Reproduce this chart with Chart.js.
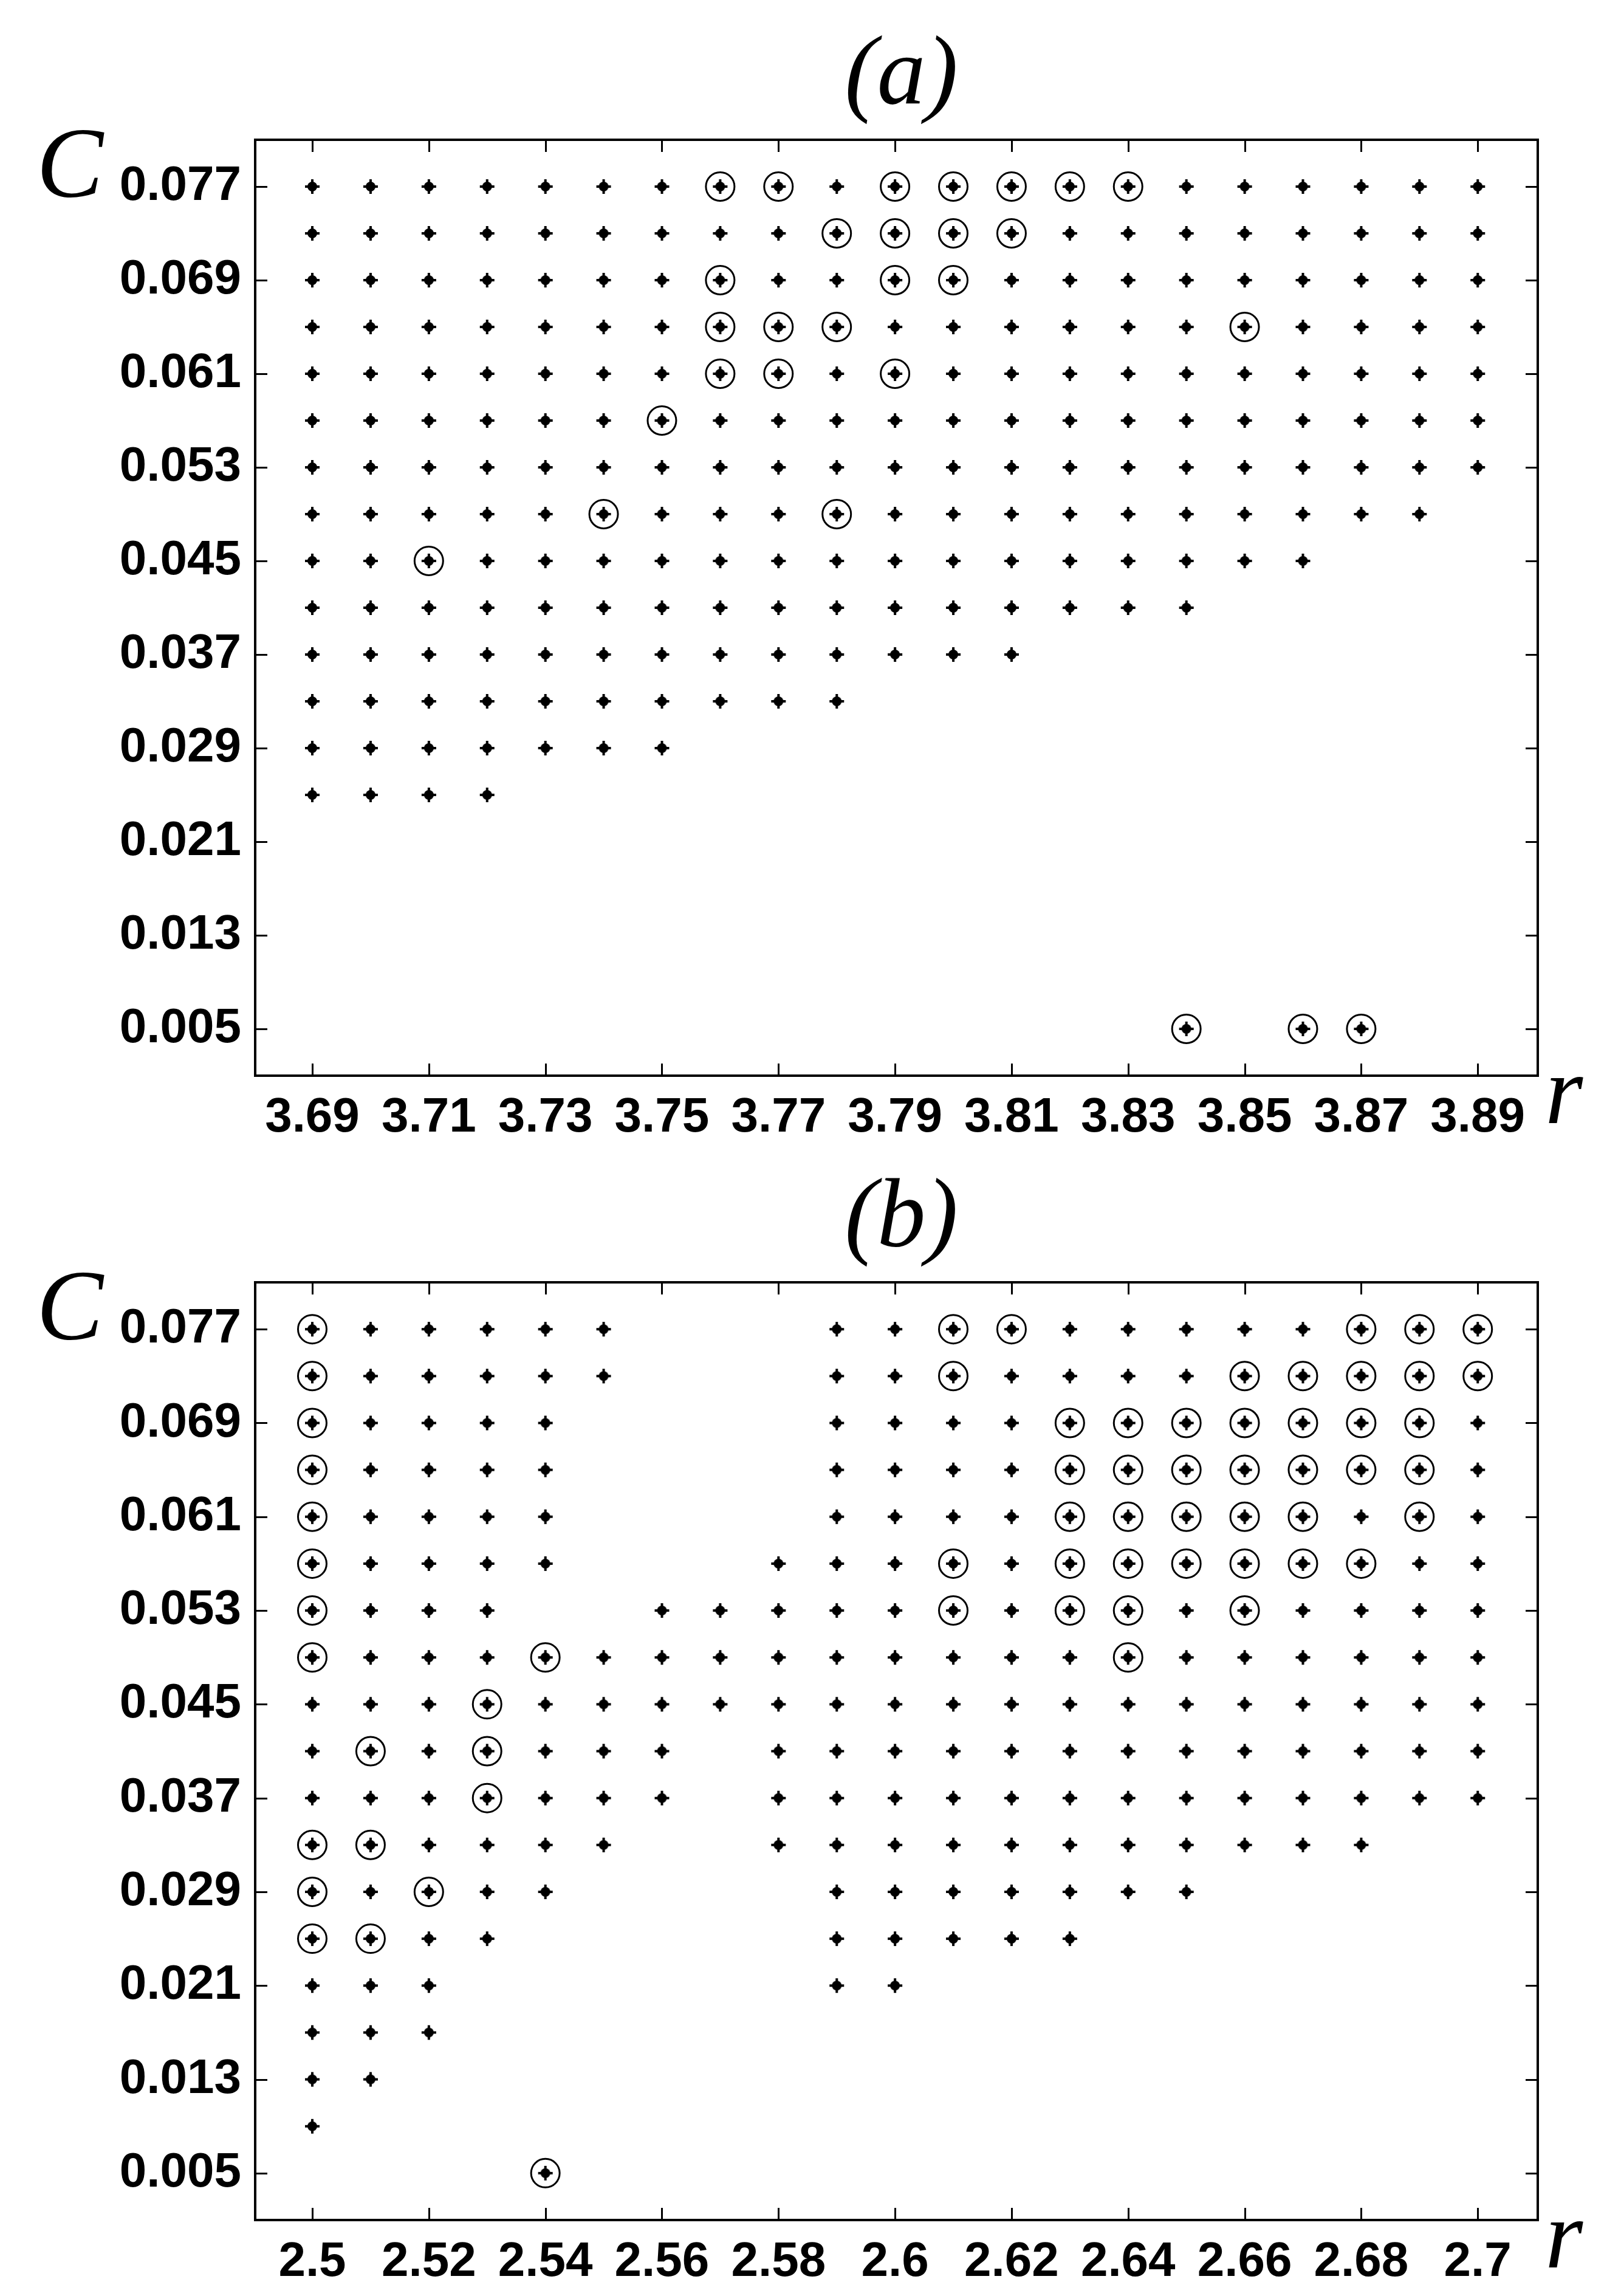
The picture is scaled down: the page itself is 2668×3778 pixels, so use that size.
<!DOCTYPE html>
<html>
<head>
<meta charset="utf-8">
<script src="https://cdn.jsdelivr.net/npm/chart.js@4.4.1/dist/chart.umd.min.js"></script>
<style>
html, body { margin: 0; padding: 0; background: #fff; }
#wrap { position: relative; width: 2668px; height: 3778px; }
.box { position: absolute; left: 0; width: 2668px; }
</style>
</head>
<body>
<div id="wrap">
  <div class="box" style="top:0"><canvas id="chartA" width="2668" height="1880"></canvas></div>
  <div class="box" style="top:1880px"><canvas id="chartB" width="2668" height="1898"></canvas></div>
</div>
<script>
// C levels, top row first
var cLevels = [0.077, 0.073, 0.069, 0.065, 0.061, 0.057, 0.053, 0.049, 0.045, 0.041,
               0.037, 0.033, 0.029, 0.025, 0.021, 0.017, 0.013, 0.009, 0.005]
var cTicks = [0.005, 0.013, 0.021, 0.029, 0.037, 0.045, 0.053, 0.061, 0.069, 0.077]
var cTickLabels = ['0.005', '0.013', '0.021', '0.029', '0.037', '0.045', '0.053', '0.061', '0.069', '0.077']

// panel (a)
var rA = [3.69, 3.70, 3.71, 3.72, 3.73, 3.74, 3.75, 3.76, 3.77, 3.78, 3.79,
          3.80, 3.81, 3.82, 3.83, 3.84, 3.85, 3.86, 3.87, 3.88, 3.89]
var rTicksA = [3.69, 3.71, 3.73, 3.75, 3.77, 3.79, 3.81, 3.83, 3.85, 3.87, 3.89]
var rTickLabelsA = ['3.69', '3.71', '3.73', '3.75', '3.77', '3.79', '3.81', '3.83', '3.85', '3.87', '3.89']
// one string per C level: '+' point, 'o' circled point, '.' nothing
var gridA = [
  '+++++++oo+ooooo++++++',
  '+++++++++oooo++++++++',
  '+++++++o++oo+++++++++',
  '+++++++ooo++++++o++++',
  '+++++++oo+o++++++++++',
  '++++++o++++++++++++++',
  '+++++++++++++++++++++',
  '+++++o+++o++++++++++.',
  '++o+++++++++++++++...',
  '++++++++++++++++.....',
  '+++++++++++++........',
  '++++++++++...........',
  '+++++++..............',
  '++++.................',
  '.....................',
  '.....................',
  '.....................',
  '.....................',
  '...............o.oo..'
]

// panel (b)
var rB = [2.50, 2.51, 2.52, 2.53, 2.54, 2.55, 2.56, 2.57, 2.58, 2.59, 2.60,
          2.61, 2.62, 2.63, 2.64, 2.65, 2.66, 2.67, 2.68, 2.69, 2.70]
var rTicksB = [2.50, 2.52, 2.54, 2.56, 2.58, 2.60, 2.62, 2.64, 2.66, 2.68, 2.70]
var rTickLabelsB = ['2.5', '2.52', '2.54', '2.56', '2.58', '2.6', '2.62', '2.64', '2.66', '2.68', '2.7']
var gridB = [
  'o+++++...++oo+++++ooo',
  'o+++++...++o++++ooooo',
  'o++++....++++ooooooo+',
  'o++++....++++ooooooo+',
  'o++++....++++ooooo+o+',
  'o++++...+++o+oooooo++',
  'o+++..+++++o+oo+o++++',
  'o+++o+++++++++o++++++',
  '+++o+++++++++++++++++',
  '+o+o+++.+++++++++++++',
  '+++o+++.+++++++++++++',
  'oo++++..+++++++++++..',
  'o+o++....+++++++.....',
  'oo++.....+++++.......',
  '+++......++..........',
  '+++..................',
  '++...................',
  '+....................',
  '....o................'
]

function buildPoints(rVals, rows) {
  var dots = [], rings = []
  rows.forEach(function (row, i) {
    for (var j = 0; j < row.length; j++) {
      var ch = row[j]
      if (ch === '.') continue
      var p = { x: rVals[j], y: cLevels[i] }
      dots.push(p)
      if (ch === 'o') rings.push(p)
    }
  })
  return { dots: dots, rings: rings }
}

// small blob marker like the original
function makeDot() {
  var c = document.createElement('canvas')
  c.width = 26; c.height = 26
  var g = c.getContext('2d')
  g.fillStyle = '#000'
  g.beginPath(); g.arc(13, 13, 8, 0, Math.PI * 2); g.fill()
  g.fillRect(11, 1, 4, 24)
  g.fillRect(1, 11, 24, 4)
  return c
}
var dotImg = makeDot()

var framePlugin = {
  id: 'frame',
  afterDraw: function (chart, args, opts) {
    var ctx = chart.ctx, a = chart.chartArea
    var xs = chart.scales.x, ys = chart.scales.y
    ctx.save()
    ctx.strokeStyle = '#000'
    // inward ticks on all four sides
    ctx.lineWidth = 3
    ctx.beginPath()
    opts.xTicks.forEach(function (v) {
      var px = Math.round(xs.getPixelForValue(v)) + 0.5
      ctx.moveTo(px, a.top); ctx.lineTo(px, a.top + 20)
      ctx.moveTo(px, a.bottom); ctx.lineTo(px, a.bottom - 20)
    })
    cTicks.forEach(function (v) {
      var py = Math.round(ys.getPixelForValue(v)) + 0.5
      ctx.moveTo(a.left, py); ctx.lineTo(a.left + 20, py)
      ctx.moveTo(a.right, py); ctx.lineTo(a.right - 20, py)
    })
    ctx.stroke()
    ctx.lineWidth = 4
    ctx.strokeRect(a.left, a.top, a.right - a.left, a.bottom - a.top)

    ctx.fillStyle = '#000'
    ctx.textBaseline = 'alphabetic'
    ctx.font = 'italic 160px "Liberation Serif"'
    ctx.textAlign = 'center'
    ctx.fillText(opts.title, (a.left + a.right) / 2 + 8, a.top - 60)
    ctx.textAlign = 'left'
    ctx.font = 'italic 165px "Liberation Serif"'
    ctx.fillText('C', 60, a.top + 93)
    ctx.font = 'italic 160px "Liberation Serif"'
    ctx.fillText('r', a.right + 12, a.bottom + 78)
    ctx.restore()
  }
}

function makeChart(id, rVals, rows, xTicks, xTickLabels, title, plotH) {
  var pts = buildPoints(rVals, rows)
  var canvas = document.getElementById(id)
  var H = canvas.height
  var step = rVals[1] - rVals[0]
  return new Chart(canvas.getContext('2d'), {
    type: 'scatter',
    data: {
      datasets: [
        {
          data: pts.rings,
          pointStyle: 'circle',
          pointRadius: 23.5,
          pointBorderWidth: 3,
          pointBorderColor: '#000',
          pointBackgroundColor: 'rgba(0,0,0,0)'
        },
        {
          data: pts.dots,
          pointStyle: dotImg,
          pointRadius: 12
        }
      ]
    },
    options: {
      responsive: false,
      animation: false,
      events: [],
      layout: { padding: { top: 230, right: 137, left: 0, bottom: 0 } },
      plugins: {
        legend: { display: false },
        tooltip: { enabled: false },
        frame: { xTicks: xTicks, title: title }
      },
      scales: {
        x: {
          type: 'linear',
          min: rVals[0] - 0.98 * step,
          max: rVals[rVals.length - 1] + 1.03 * step,
          grid: { display: false, drawTicks: false, tickLength: 0 },
          border: { display: false },
          afterBuildTicks: function (scale) {
            scale.ticks = xTicks.map(function (v) { return { value: v } })
          },
          afterFit: function (scale) { scale.height = H - 230 - plotH },
          ticks: {
            autoSkip: false,
            maxRotation: 0,
            minRotation: 0,
            padding: 22,
            color: '#000',
            font: { family: 'Liberation Sans', weight: 'bold', size: 80 },
            callback: function (value, index) { return xTickLabels[index] }
          }
        },
        y: {
          type: 'linear',
          min: 0.001,
          max: 0.081,
          grid: { display: false, drawTicks: false, tickLength: 0 },
          border: { display: false },
          afterBuildTicks: function (scale) {
            scale.ticks = cTicks.map(function (v) { return { value: v } })
          },
          afterFit: function (scale) { scale.width = 420 },
          ticks: {
            autoSkip: false,
            padding: 23,
            color: '#000',
            font: { family: 'Liberation Sans', weight: 'bold', size: 80 },
            callback: function (value, index) { return cTickLabels[index] }
          }
        }
      }
    },
    plugins: [framePlugin]
  })
}

makeChart('chartA', rA, gridA, rTicksA, rTickLabelsA, '(a)', 1540)
makeChart('chartB', rB, gridB, rTicksB, rTickLabelsB, '(b)', 1543)
</script>
</body>
</html>
